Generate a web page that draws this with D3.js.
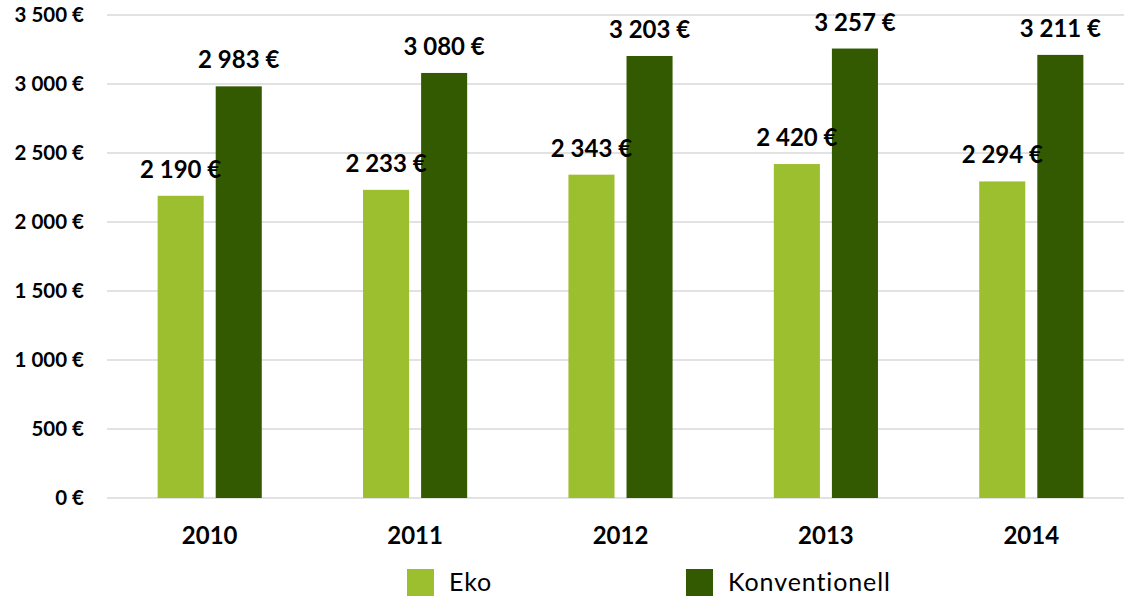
<!DOCTYPE html>
<html lang="en">
<head>
  <meta charset="UTF-8">
  <title>Eko vs Konventionell</title>
  <script src="https://cdn.jsdelivr.net/npm/d3@7"></script>
  <style>
    html, body { margin: 0; padding: 0; background: #fff; }
    svg { display: block; font-family: Lato, "Open Sans", sans-serif; }
  </style>
</head>
<body>
<svg width="1124" height="596"></svg>
<script>
var years = ["2010", "2011", "2012", "2013", "2014"];
var seriesNames = ["Eko", "Konventionell"];
var eko = [2190, 2233, 2343, 2420, 2294];
var konventionell = [2983, 3080, 3203, 3257, 3211];
var yTicks = [0, 500, 1000, 1500, 2000, 2500, 3000, 3500];
var colors = ["#9bbf2e", "#335a00"];

var svg = d3.select("svg");

// format "3 500 €"
function euro(v) {
    return d3.format(",")(v).replace(/,/g, " ") + " €";
}

// flat list of bar cells
var cellsData = [];
years.forEach(function (yr, i) {
    [eko[i], konventionell[i]].forEach(function (v, j) {
        cellsData.push({ year: yr, key: seriesNames[j], value: v, i: j });
    });
});

var x0 = d3.scaleBand()
    .domain(years)
    .range([107, 1134])
    .paddingInner(0.493)
    .paddingOuter(0.2465);

var x1 = d3.scaleBand()
    .domain(seriesNames)
    .range([0, x0.bandwidth()])
    .paddingInner(0.207);

var y = d3.scaleLinear()
    .domain([0, 3500])
    .range([498, 15]);

function barX(d) { return x0(d.year) + x1(d.key); }

// grid
svg.append("g")
    .selectAll("line")
    .data(yTicks)
    .enter().append("line")
    .attr("x1", 107)
    .attr("x2", 1124)
    .attr("y1", function (d) { return y(d); })
    .attr("y2", function (d) { return y(d); })
    .attr("stroke", "#d9d9d9")
    .attr("stroke-width", 1.5);

// y labels
svg.append("g")
    .selectAll("text")
    .data(yTicks)
    .enter().append("text")
    .attr("x", 84)
    .attr("y", function (d) { return y(d); })
    .attr("dy", "0.35em")
    .attr("text-anchor", "end")
    .attr("font-size", 20.5)
    .attr("font-weight", "bold")
    .attr("fill", "#000")
    .text(euro);

// bars
svg.append("g")
    .selectAll("rect")
    .data(cellsData)
    .enter().append("rect")
    .attr("x", barX)
    .attr("y", function (d) { return y(d.value); })
    .attr("width", x1.bandwidth())
    .attr("height", function (d) { return y(0) - y(d.value); })
    .attr("fill", function (d) { return colors[d.i]; });

// value labels on top of all bars
svg.append("g")
    .selectAll("text")
    .data(cellsData)
    .enter().append("text")
    .attr("x", function (d) { return barX(d) + x1.bandwidth() / 2; })
    .attr("y", function (d) { return y(d.value) - 18; })
    .attr("text-anchor", "middle")
    .attr("font-size", 24)
    .attr("font-weight", "bold")
    .attr("fill", "#000")
    .text(function (d) { return euro(d.value); });

// x labels
svg.append("g")
    .selectAll("text")
    .data(years)
    .enter().append("text")
    .attr("x", function (d) { return x0(d) + x0.bandwidth() / 2; })
    .attr("y", 544)
    .attr("text-anchor", "middle")
    .attr("font-size", 24)
    .attr("font-weight", "bold")
    .attr("fill", "#000")
    .text(function (d) { return d; });

// legend
var legendX = [407, 686];
var legend = svg.append("g")
    .selectAll("g")
    .data(seriesNames)
    .enter().append("g")
    .attr("transform", function (d, i) { return "translate(" + legendX[i] + ",569)"; });

legend.append("rect")
    .attr("width", 27)
    .attr("height", 27)
    .attr("fill", function (d, i) { return colors[i]; });

legend.append("text")
    .attr("x", 42)
    .attr("y", 13)
    .attr("dy", "0.35em")
    .attr("font-size", 25)
    .attr("letter-spacing", 0.9)
    .attr("fill", "#000")
    .text(function (d) { return d; });
</script>
</body>
</html>
